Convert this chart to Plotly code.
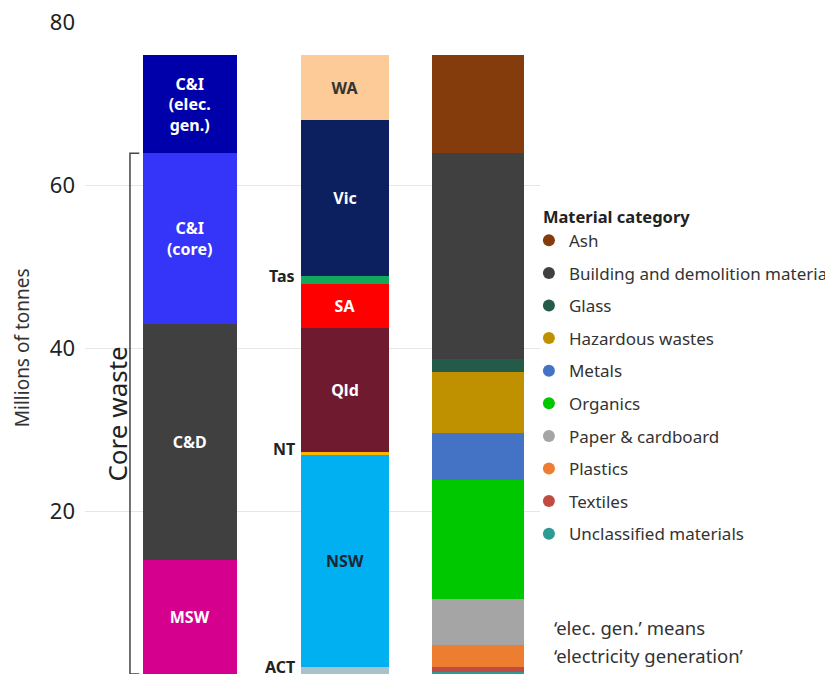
import plotly.graph_objects as go

# ---------------- data ----------------
categories = ["Source", "Jurisdiction", "Material"]

source_names = ["MSW", "C&D", "C&I (core)", "C&I (elec. gen.)"]
source_text = ["MSW", "C&D", "C&I<br>(core)", "C&I<br>(elec.<br>gen.)"]
source_values = [14.0, 29.0, 20.9, 12.0]
source_colors = ["#D6008F", "#404040", "#3535FA", "#0000AA"]
core_names = ["MSW", "C&D", "C&I (core)"]

jur_names = ["ACT", "NSW", "NT", "Qld", "SA", "Tas", "Vic", "WA"]
jur_values = [0.85, 26.0, 0.45, 15.1, 5.45, 0.95, 19.15, 7.95]
jur_colors = ["#A9C1C9", "#00B0F0", "#FFB400", "#6F1A2E", "#FF0000", "#14A85A", "#0C1F5E", "#FCCB97"]
jur_inside = ["", "NSW", "", "Qld", "SA", "", "Vic", "WA"]
jur_text_colors = ["#222", "#1B2633", "#222", "white", "white", "#222", "white", "#333"]
jur_outside = ["ACT", "NT", "Tas"]

mat_names = ["Unclassified materials", "Textiles", "Plastics", "Paper & cardboard", "Organics",
             "Metals", "Hazardous wastes", "Glass", "Building and demolition materials", "Ash"]
mat_values = [0.2, 0.7, 2.6, 5.75, 14.6, 5.7, 7.45, 1.6, 25.3, 12.0]
mat_colors = ["#2E9A94", "#BF4B43", "#ED7D31", "#A5A5A5", "#00C800",
              "#4472C4", "#BF9000", "#245A4A", "#404040", "#843C0C"]

y_ticks = [0, 20, 40, 60, 80]

FONT = "Noto Sans"

fig = go.Figure()

# bar 1: by source
for n, t, v, c in zip(source_names, source_text, source_values, source_colors):
    fig.add_trace(go.Bar(
        x=[categories[0]], y=[v], name=n, marker=dict(color=c, line=dict(width=0)),
        width=0.653, offset=-0.3265, text=[t], textposition="inside",
        insidetextanchor="middle", textangle=0,
        textfont=dict(family=FONT, size=16, color="white", weight="bold"),
        showlegend=False, hoverinfo="name+y"))

# bar 2: by jurisdiction
for n, t, v, c, tc in zip(jur_names, jur_inside, jur_values, jur_colors, jur_text_colors):
    fig.add_trace(go.Bar(
        x=[categories[1]], y=[v], name=n, marker=dict(color=c, line=dict(width=0)),
        width=0.611, offset=-0.227, text=[t], textposition="inside",
        insidetextanchor="middle", textangle=0,
        textfont=dict(family=FONT, size=16, color=tc, weight="bold"),
        showlegend=False, hoverinfo="name+y"))

# bar 3: by material
for n, v, c in zip(mat_names, mat_values, mat_colors):
    fig.add_trace(go.Bar(
        x=[categories[2]], y=[v], name=n, marker=dict(color=c, line=dict(width=0)),
        width=0.641, offset=-0.3205, showlegend=False, hoverinfo="name+y"))

# legend entries (circles), alphabetical order
for n, c in reversed(list(zip(mat_names, mat_colors))):
    fig.add_trace(go.Scatter(
        x=[None], y=[None], mode="markers", name=n, legendgroup=n,
        marker=dict(size=12, color=c, symbol="circle"), showlegend=True))

annotations = []

# outside labels for small jurisdictions
cum = 0.0
for n, v in zip(jur_names, jur_values):
    if n in jur_outside:
        annotations.append(dict(
            x=0.747, y=cum + v / 2, xref="x", yref="y", text="<b>%s</b>" % n,
            showarrow=False, xanchor="right", yanchor="middle", yshift=4,
            font=dict(family=FONT, size=16, color="#222")))
    cum += v

# core waste bracket
core_total = sum(v for n, v in zip(source_names, source_values) if n in core_names)
shapes = [dict(
    type="path", xref="x", yref="y",
    path="M -0.35,0 L -0.4146,0 L -0.4146,%f L -0.35,%f" % (core_total, core_total),
    line=dict(color="#444", width=1.5))]
annotations.append(dict(
    x=-0.505, y=core_total / 2, xref="x", yref="y", text="Core waste",
    showarrow=False, textangle=-90, xanchor="center", yanchor="middle",
    font=dict(family=FONT, size=26, color="#222")))

# y-axis title
annotations.append(dict(
    x=-0.138, y=40, xref="paper", yref="y", text="Millions of tonnes",
    showarrow=False, textangle=-90, xanchor="center", yanchor="middle",
    font=dict(family=FONT, size=19, color="#333")))

# note
annotations.append(dict(
    x=1.0266, y=0.0706, xref="paper", yref="paper", text="\u2018elec. gen.\u2019 means",
    showarrow=False, xanchor="left", yanchor="middle",
    font=dict(family=FONT, size=18.5, color="#333")))
annotations.append(dict(
    x=1.0266, y=0.0291, xref="paper", yref="paper", text="\u2018electricity generation\u2019",
    showarrow=False, xanchor="left", yanchor="middle",
    font=dict(family=FONT, size=18.5, color="#333")))

fig.update_layout(
    width=825, height=684,
    margin=dict(l=85, r=285, t=22, b=10, autoexpand=False),
    barmode="stack",
    plot_bgcolor="white", paper_bgcolor="white",
    font=dict(family=FONT, color="#333"),
    xaxis=dict(type="category", categoryorder="array", categoryarray=categories,
               range=[-0.727, 2.433], showticklabels=False, showgrid=False,
               zeroline=False, showline=False, fixedrange=True),
    yaxis=dict(range=[0, 80], tickvals=y_ticks, showgrid=True, gridcolor="#E6E6E6",
               gridwidth=1, zeroline=False, showline=False, ticks="",
               ticklabelstandoff=9,
               tickfont=dict(family=FONT, size=22, color="#222")),
    legend=dict(
        x=1.002, y=0.725, xanchor="left", yanchor="top",
        title=dict(text="<b>Material category</b>", font=dict(family=FONT, size=16.5, color="#222")),
        font=dict(family=FONT, size=17, color="#333"),
        traceorder="grouped", tracegroupgap=7.5, indentation=-12,
        bgcolor="rgba(0,0,0,0)", itemclick=False, itemdoubleclick=False),
    shapes=shapes,
    annotations=annotations,
    showlegend=True,
)

fig.write_html("out.html")
